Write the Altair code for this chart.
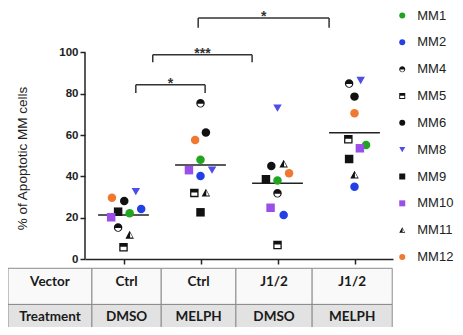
import altair as alt
import pandas as pd

# ---------------- data ----------------
groups = [1, 2, 3, 4]
series = ["MM1", "MM2", "MM4", "MM5", "MM6", "MM8", "MM9", "MM10", "MM11", "MM12"]

# % apoptotic cells per group, in series order
g1_values = [22.2, 24.2, 15.2, 5.7, 28.1, 32.6, 22.9, 20.2, 11.6, 29.7]
g2_values = [48.0, 40.2, 75.4, 32.0, 61.2, 43.0, 22.6, 43.0, 32.0, 57.6]
g3_values = [38.0, 21.3, 31.8, 6.8, 45.0, 73.0, 38.6, 24.8, 46.0, 41.5]
g4_values = [55.2, 35.0, 85.0, 58.0, 78.6, 86.4, 48.4, 53.6, 40.7, 70.5]
# horizontal scatter of the points inside each group (category units)
g1_jitter = [0.08, 0.23, -0.07, 0.0, 0.01, 0.16, -0.07, -0.16, 0.08, -0.15]
g2_jitter = [0.0, 0.0, 0.0, -0.08, 0.07, 0.15, 0.0, -0.15, 0.07, -0.07]
g3_jitter = [0.0, 0.08, 0.0, 0.0, -0.08, 0.0, -0.15, -0.09, 0.08, 0.15]
g4_jitter = [0.15, 0.0, -0.07, -0.08, 0.0, 0.08, -0.07, 0.07, 0.0, 0.0]

colors = ["#1fa51f", "#2340e6", "#111111", "#111111", "#111111",
          "#4d4de8", "#111111", "#9a50e8", "#111111", "#f07830"]

# half-filled symbols as custom paths
HALF_CIRCLE = "M-1,0 A1,1 0 0,1 1,0 A1,1 0 0,1 -1,0 Z M-0.7,0.12 A0.7,0.7 0 0,0 0.7,0.12 Z"
HALF_SQUARE = "M-1,-1 L1,-1 L1,1 L-1,1 Z M-0.7,-0.1 L-0.7,0.7 L0.7,0.7 L0.7,-0.1 Z"
HALF_TRI = "M0,-1 L1,0.85 L-1,0.85 Z M0.1,-0.55 L0.1,0.6 L0.72,0.6 Z"
shapes = ["circle", "circle", HALF_CIRCLE, HALF_SQUARE, "circle",
          "triangle-down", "square", "square", HALF_TRI, "circle"]

bracket_x1 = [1.16, 1.38, 1.97]
bracket_x2 = [2.06, 2.67, 3.67]
bracket_top = [84.3, 98.9, 116.7]
bracket_leg = [80.3, 95.3, 112.0]
bracket_label = ["*", "***", "*"]

y_ticks = [0, 20, 40, 60, 80, 100]
y_title = "% of Apoptotic MM cells"

table_row_names = ["Vector", "Treatment"]
table_vector = ["Ctrl", "Ctrl", "J1/2", "J1/2"]
table_treatment = ["DMSO", "MELPH", "DMSO", "MELPH"]

# ---------------- frames ----------------
rows = []
for g, vals, jit in zip(groups, [g1_values, g2_values, g3_values, g4_values],
                        [g1_jitter, g2_jitter, g3_jitter, g4_jitter]):
    for s, v, j in zip(series, vals, jit):
        rows.append({"group": g, "series": s, "value": v, "x": g + j})
pts = pd.DataFrame(rows)

br = pd.DataFrame({"x": bracket_x1, "x2": bracket_x2, "y": bracket_top,
                   "leg": bracket_leg, "label": bracket_label})
legs = pd.DataFrame(
    [{"x": a, "y": t, "y2": l} for a, t, l in zip(bracket_x1, bracket_top, bracket_leg)]
    + [{"x": b, "y": t, "y2": l} for b, t, l in zip(bracket_x2, bracket_top, bracket_leg)]
)

# table layout (category units / value units)
col_edges = [-0.5, 0.59, 1.49, 2.46, 3.45, 4.49]
row_edges = [-4.5, -22.0, -40.0]
row_text_y = [-11.0, -28.3]
cells = []
for r, (name, vals) in enumerate(zip(table_row_names, [table_vector, table_treatment])):
    texts = [name] + vals
    for c, t in enumerate(texts):
        cells.append({"row": name, "text": t,
                      "x": col_edges[c], "x2": col_edges[c + 1],
                      "xc": (col_edges[c] + col_edges[c + 1]) / 2,
                      "y": row_edges[r], "y2": row_edges[r + 1],
                      "ty": row_text_y[r]})
cells = pd.DataFrame(cells)

axis_rule = pd.DataFrame({"x": [0.5], "y": [0], "y2": [100]})

LEGEND_COL = 4.62
leg_df = pd.DataFrame({"series": series, "lx": [LEGEND_COL] * len(series)})

# ---------------- scales / axes ----------------
FONT = "Liberation Sans"
xs = alt.Scale(domain=[0.5, 4.5], nice=False, zero=False)
ys = alt.Scale(domain=[0, 121.5], nice=False, zero=False)
xaxis = alt.Axis(values=groups, labels=False, title=None, grid=False, tickSize=5,
                 tickWidth=1.5, tickColor="#222", domainColor="#222", domainWidth=1.5)
yaxis = alt.Axis(values=y_ticks, domain=False, grid=False, tickSize=5, tickWidth=1.5,
                 tickColor="#222", labelFont=FONT, labelFontWeight="bold",
                 labelFontSize=11.5, labelColor="#222", labelPadding=2,
                 title=y_title, titleFont=FONT, titleFontSize=13.5, titleFontWeight="normal",
                 titleColor="#222", titleX=-63, titleY=150, titleAngle=270,
                 titleAlign="center", titleBaseline="middle")
color_scale = alt.Scale(domain=series, range=colors)
shape_scale = alt.Scale(domain=series, range=shapes)


def X(f):
    return alt.X(f, type="quantitative", scale=xs, axis=xaxis)


def Y(f):
    return alt.Y(f, type="quantitative", scale=ys, axis=yaxis)


table_rect = alt.Chart(cells).mark_rect(stroke="#8c8c8c", strokeWidth=1).encode(
    x=X("x"), x2="x2", y=Y("y"), y2="y2",
    fill=alt.condition(alt.datum.row == "Treatment", alt.value("#e2e2e2"), alt.value("#f9f9f9")),
)
table_text = alt.Chart(cells).mark_text(font="Lato", fontWeight="bold", fontSize=13.5,
                                        color="#1a1a1a", baseline="middle").encode(
    x=X("xc"), y=Y("ty"), text="text:N")

yline = alt.Chart(axis_rule).mark_rule(color="#222", strokeWidth=1.5).encode(
    x=X("x"), y=Y("y"), y2="y2")

means = alt.Chart(pts).transform_aggregate(
    mean="mean(value)", groupby=["group"]
).transform_calculate(
    x1="datum.group - 0.33", x2="datum.group + 0.33"
).mark_rule(color="#222", strokeWidth=1.5).encode(x=X("x1"), x2="x2", y=Y("mean"))

br_h = alt.Chart(br).mark_rule(color="#333", strokeWidth=1.5).encode(
    x=X("x"), x2="x2", y=Y("y"))
br_v = alt.Chart(legs).mark_rule(color="#333", strokeWidth=1.5).encode(
    x=X("x"), y=Y("y"), y2="y2")
stars = alt.Chart(br).transform_calculate(xm="(datum.x + datum.x2) / 2").mark_text(
    font=FONT, fontWeight="bold", fontSize=14, color="#333", baseline="alphabetic", dy=3
).encode(x=X("xm"), y=Y("y"), text="label:N")

points = alt.Chart(pts).mark_point(filled=True, size=72, opacity=1, strokeWidth=0).encode(
    x=X("x"), y=Y("value"),
    color=alt.Color("series:N", scale=color_scale, legend=None),
    shape=alt.Shape("series:N", scale=shape_scale, legend=None),
)

main = alt.layer(table_rect, table_text, yline, means, br_h, br_v, stars, points)

# legend: one row per series on its own point scale
ly = alt.Y("series:N", sort=series, scale=alt.Scale(type="point", padding=0, range=[7.5, 249]),
           axis=None)
leg_sym = alt.Chart(leg_df).mark_point(filled=True, size=36, opacity=1, strokeWidth=0).encode(
    x=X("lx"), y=ly,
    color=alt.Color("series:N", scale=color_scale, legend=None),
    shape=alt.Shape("series:N", scale=shape_scale, legend=None),
)
leg_txt = alt.Chart(leg_df).mark_text(font=FONT, fontSize=13, color="#222", align="left",
                                      baseline="middle", dx=15).encode(
    x=X("lx"), y=ly, text="series:N")
legend = alt.layer(leg_sym, leg_txt)

chart = alt.layer(main, legend).resolve_scale(y="independent").properties(
    width=308, height=251,
    autosize=alt.AutoSizeParams(type="none"),
    padding={"left": 77, "top": 0, "right": 62, "bottom": 68},
).configure_view(stroke=None)

chart.save("out.html", embed_options={"renderer": "svg", "actions": False})
